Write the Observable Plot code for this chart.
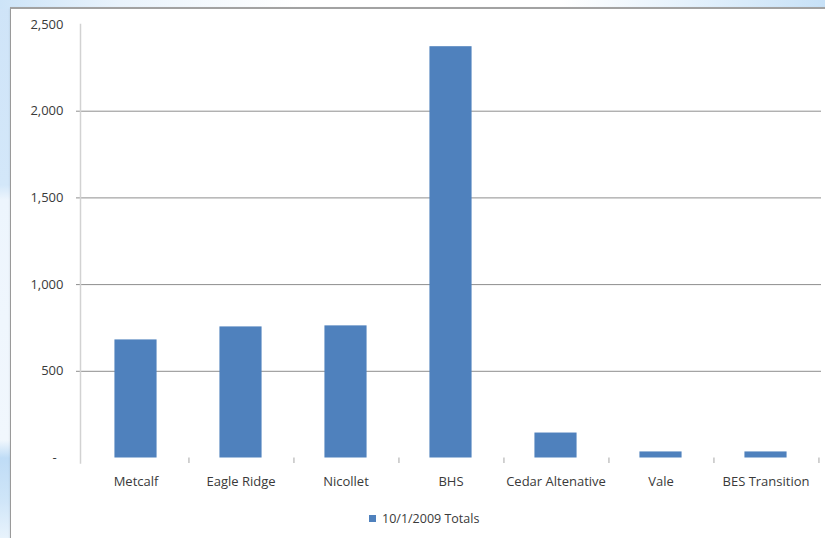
<!DOCTYPE html>
<html>
<head>
<meta charset="utf-8">
<script src="https://cdn.jsdelivr.net/npm/d3@7"></script>
<script src="https://cdn.jsdelivr.net/npm/@observablehq/plot@0.6"></script>
<style>
  html, body { margin: 0; padding: 0; }
  body {
    width: 825px; height: 538px; position: relative; overflow: hidden;
    font-family: "Open Sans", sans-serif;
    background:
      linear-gradient(to right, #cde4f8 0px, #e9f3fc 120px, #ffffff 300px, #ffffff 560px, #e4f1fc 690px, #c7e1f7 825px) top left / 825px 9px no-repeat,
      linear-gradient(to bottom, #cfe4f8 0px, #d3e7f9 185px, #edf5fd 200px, #f1f7fd 440px, #bfdcf6 458px, #cfe5f8 500px, #e8f3fc 538px) top left / 11px 538px no-repeat,
      #ffffff;
  }
  #panel {
    position: absolute; left: 10px; top: 7px; width: 830px; height: 540px;
    background: #ffffff;
    border-left: 1.5px solid #9a9a9a;
    border-top: 2px solid #a2a2a2;
    box-shadow: 0 1px 2px rgba(0,0,0,0.12);
  }
  #chart { position: absolute; left: 0; top: 0; }
  #legend {
    position: absolute; left: 369px; top: 510px;
    display: flex; align-items: center; gap: 6px;
    font-size: 12.5px; color: #3a3a3a;
  }
  #legend .swatch { width: 7px; height: 7px; background: #4f81bd; }
</style>
</head>
<body>
<div id="panel"></div>
<div id="chart"></div>
<div id="legend"><span class="swatch"></span><span id="legend-label"></span></div>
<script>
// Enrollment totals by site
const sites = ["Metcalf", "Eagle Ridge", "Nicollet", "BHS", "Cedar Altenative", "Vale", "BES Transition"];
const totals = [681, 756, 762, 2372, 144, 35, 35];
const yTicks = [0, 500, 1000, 1500, 2000, 2500];
const gridValues = [500, 1000, 1500, 2000];
const seriesName = "10/1/2009 Totals";

const data = sites.map((site, i) => ({site, total: totals[i]}));

const width = 825, height = 500;
const marginLeft = 80, marginRight = 4, marginTop = 24, marginBottom = 42.5;
const step = (width - marginLeft - marginRight) / sites.length;
const barWidth = 43;
const inset = (step - barWidth) / 2;
const fmt = d3.format(",");

const chart = Plot.plot({
  width, height, marginLeft, marginRight, marginTop, marginBottom,
  style: {background: "transparent", fontFamily: "Open Sans, sans-serif", fontSize: "13px", color: "#3a3a3a"},
  x: {domain: sites, padding: 0, label: null},
  y: {domain: [0, 2500], label: null},
  marks: [
    Plot.ruleY(gridValues, {stroke: "#8e8e8e", strokeWidth: 1, insetLeft: -4}),
    Plot.frame({anchor: "left", stroke: "#d2d2d2", strokeWidth: 1.5, insetBottom: -5}),
    Plot.ruleX(sites, {x: d => d, dx: step / 2, y1: 0, y2: 0, insetBottom: -5.5, stroke: "#c4c4c4", strokeWidth: 1.5}),
    Plot.barY(data, {x: "site", y: "total", fill: "#4f81bd", insetLeft: inset, insetRight: inset}),
    Plot.axisY({ticks: yTicks, tickSize: 0, tickPadding: 17, tickFormat: d => d === 0 ? "-\u00a0\u00a0" : fmt(d), fill: "#3a3a3a"}),
    Plot.axisX({tickSize: 0, tickPadding: 18.5, fill: "#3a3a3a"})
  ]
});
document.getElementById("chart").appendChild(chart);
document.getElementById("legend-label").textContent = seriesName;
</script>
</body>
</html>
